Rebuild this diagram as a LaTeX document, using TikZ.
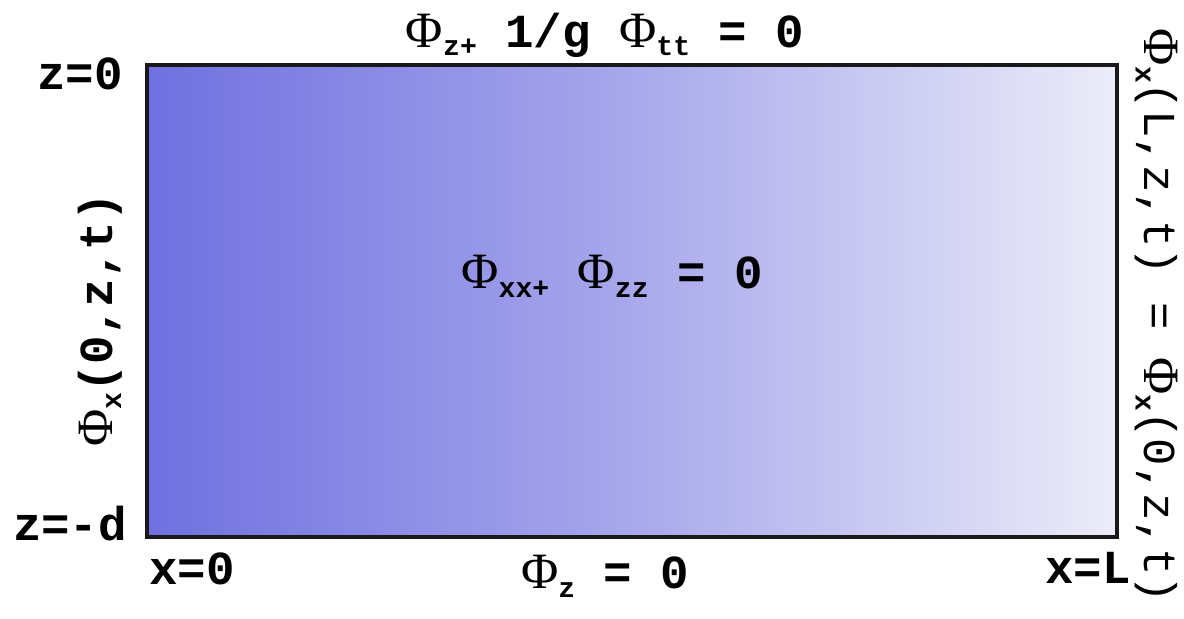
\documentclass[tikz,border=0pt]{standalone}
\usepackage{fontspec}
\usepackage{tikz}
\usetikzlibrary{positioning, calc}
\newfontfamily\codefont{Liberation Mono}
\newfontfamily\greekfont{Liberation Serif}
\definecolor{deepwater}{RGB}{112,112,224}
\definecolor{midwater}{RGB}{140,140,230}
\definecolor{halfwater}{RGB}{168,168,236}
\definecolor{palewater}{RGB}{202,202,242}
\definecolor{lightwater}{RGB}{236,236,249}
\pgfdeclarehorizontalshading{waterfade}{100bp}{%
  color(0bp)=(deepwater); color(25bp)=(deepwater); color(37.5bp)=(midwater);
  color(50bp)=(halfwater); color(62.5bp)=(palewater); color(75bp)=(lightwater);
  color(100bp)=(lightwater)}
\newcommand{\phisym}{{\greekfont\mdseries\fontsize{29}{30}\selectfont Φ}}
\newcommand{\lowidx}[1]{\raisebox{-0.35ex}{\fontsize{16}{18}\selectfont\bfseries #1}}
\tikzset{
  lbl/.style={inner sep=0pt, font=\codefont\fontsize{27}{30}\selectfont\bfseries},
  thinlbl/.style={inner sep=0pt, font=\codefont\fontsize{26}{30}\selectfont},
  tank/.style={draw=black!90, line width=2.2pt, shading=waterfade}
}
\begin{document}
\begin{tikzpicture}[x=0.02cm, y=-0.02cm]
  \useasboundingbox (0,0) rectangle (1184,619);
  % fluid domain
  \coordinate (tl) at (147,65);
  \coordinate (br) at (1117,537);
  \path[tank] (tl) rectangle (br);
  % corner labels
  \node[lbl] (ztop) at (80,74) {z=0};
  \node[lbl] (zbot) at (70,524) {z=-d};
  \node[lbl] (xleft) at (192,569) {x=0};
  \node[lbl] (xright) at (1088,568) {x=L};
  % boundary conditions
  \node[lbl] (surface) at (605,35) {\phisym\lowidx{z+} 1/g \phisym\lowidx{tt} = 0};
  \node[lbl] (laplace) at (612,276) {\phisym\lowidx{xx+} \phisym\lowidx{zz} = 0};
  \node[lbl] (bottom) at (605,576) {\phisym\lowidx{z} = 0};
  \node[lbl, rotate=90] (leftbc) at (100,320) {\phisym\lowidx{x}(0,z,t)};
  \node[thinlbl, rotate=-90] (rightbc) at (1156,316) {\phisym\lowidx{x}(L,z,t) = \phisym\lowidx{x}(0,z,t)};
\end{tikzpicture}
\end{document}
